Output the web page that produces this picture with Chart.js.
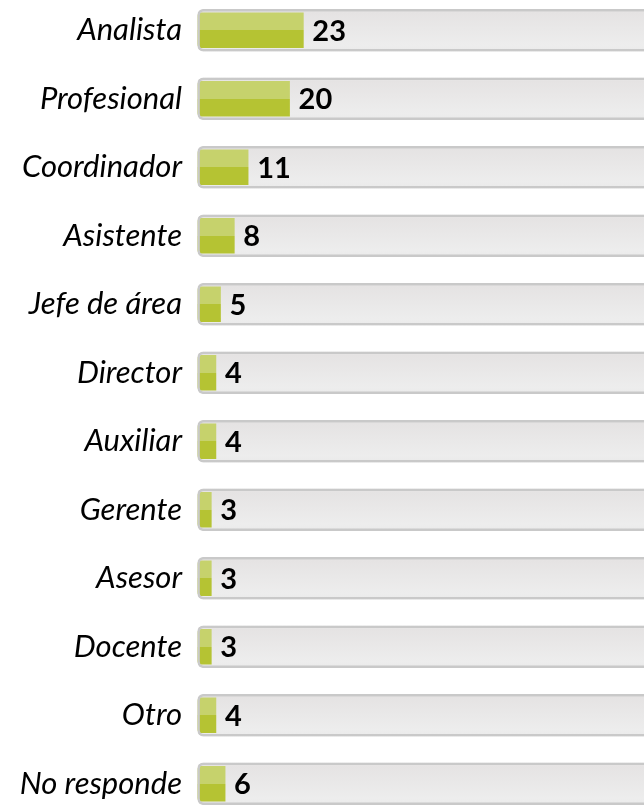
<!DOCTYPE html>
<html>
<head>
<meta charset="utf-8">
<script src="https://cdn.jsdelivr.net/npm/chart.js@4.4.1/dist/chart.umd.min.js"></script>
<style>
  html, body { margin: 0; padding: 0; background: #ffffff; overflow: hidden; width: 644px; height: 808px; }
  #wrap { position: absolute; left: 0; top: -4.25px; width: 644px; height: 822px; }
</style>
</head>
<body>
<div id="wrap"><canvas id="c"></canvas></div>
<script>
const categories = ['Analista', 'Profesional', 'Coordinador', 'Asistente', 'Jefe de área', 'Director', 'Auxiliar', 'Gerente', 'Asesor', 'Docente', 'Otro', 'No responde'];
const values = [23, 20, 11, 8, 5, 4, 4, 3, 3, 3, 4, 6];
const trackValues = [100, 100, 100, 100, 100, 100, 100, 100, 100, 100, 100, 100];
const scaleMax = 97;

const TRACK_H = 42;
const BAR_H = 35;

function rowGradient(ctx, stops, h, fallback) {
  const chart = ctx.chart;
  const y = chart.scales && chart.scales.y;
  if (ctx.dataIndex === undefined || !y || !chart.chartArea) return fallback;
  const cy = y.getPixelForValue(ctx.dataIndex);
  const g = chart.ctx.createLinearGradient(0, cy - h / 2, 0, cy + h / 2);
  stops.forEach(s => g.addColorStop(s[0], s[1]));
  return g;
}

const greenStops = [[0, '#c6d26c'], [0.5, '#c6d26c'], [0.5, '#b5c333'], [1, '#b5c333']];
const trackStops = [[0, '#f4f4f4'], [0.07, '#e5e3e3'], [0.85, '#ededed'], [1, '#eaeaea']];

const valueLabels = {
  id: 'valueLabels',
  afterDatasetsDraw(chart) {
    const meta = chart.getDatasetMeta(1);
    const c = chart.ctx;
    c.save();
    c.font = 'bold 29px Lato';
    c.fillStyle = '#000000';
    c.textAlign = 'left';
    c.textBaseline = 'middle';
    meta.data.forEach((el, i) => {
      c.fillText(String(values[i]), el.x + 9, el.y + 1);
    });
    c.restore();
  }
};

new Chart(document.getElementById('c'), {
  type: 'bar',
  data: {
    labels: categories,
    datasets: [
      {
        label: 'track',
        data: trackValues,
        order: 3,
        barThickness: TRACK_H,
        backgroundColor: ctx => rowGradient(ctx, trackStops, TRACK_H, '#e6e4e4'),
        borderWidth: 0,
        borderRadius: 6,
        borderSkipped: false
      },
      {
        label: 'Cargo',
        data: values,
        order: 2,
        barThickness: BAR_H,
        backgroundColor: ctx => rowGradient(ctx, greenStops, BAR_H, '#b5c333'),
        borderWidth: 0,
        borderRadius: { topLeft: 4, bottomLeft: 4, topRight: 0, bottomRight: 0 },
        borderSkipped: false
      },
      {
        label: 'outline',
        data: trackValues,
        order: 1,
        barThickness: TRACK_H,
        backgroundColor: 'rgba(0,0,0,0)',
        borderColor: '#c9c9c9',
        borderWidth: 2,
        borderRadius: 6,
        borderSkipped: false
      }
    ]
  },
  options: {
    indexAxis: 'y',
    responsive: true,
    maintainAspectRatio: false,
    animation: false,
    layout: { padding: 0 },
    plugins: { legend: { display: false }, tooltip: { enabled: false } },
    scales: {
      x: {
        display: false,
        min: 0,
        max: scaleMax
      },
      y: {
        offset: true,
        grid: { display: false, drawTicks: false },
        border: { display: false },
        ticks: {
          color: '#000000',
          padding: 15.5,
          font: { family: 'Lato', size: 31, style: 'italic' }
        },
        afterFit(scale) {
          scale.width = 197.5;
          scale.paddingTop = 0;
          scale.paddingBottom = 0;
        }
      }
    },
    datasets: { bar: { grouped: false } }
  },
  plugins: [valueLabels]
});
</script>
</body>
</html>
